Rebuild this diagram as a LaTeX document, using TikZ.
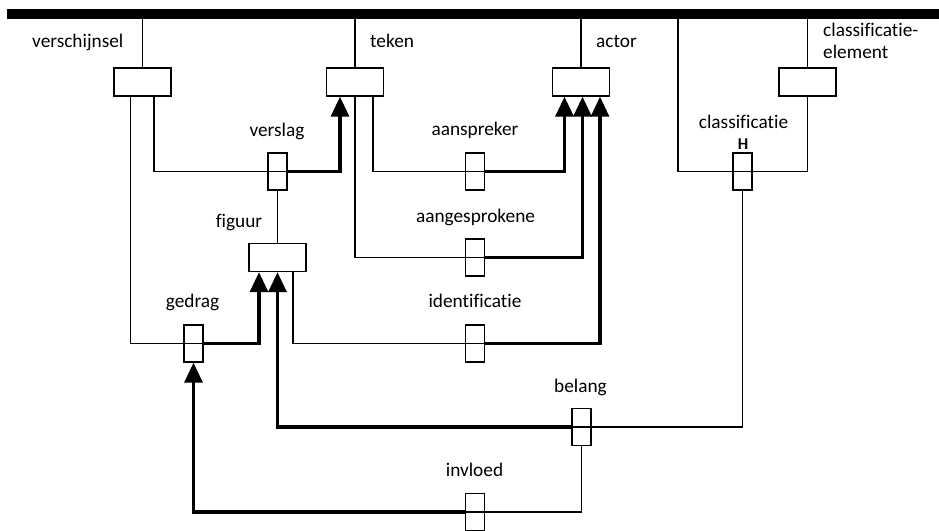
\documentclass[tikz,border=0pt]{standalone}
\usepackage{fontspec}
\setmainfont[Ligatures=NoCommon]{Carlito}
\usetikzlibrary{arrows.meta}
\tikzset{
  ent/.style={draw, line width=1.4pt, fill=white, minimum width=57pt, minimum height=28pt, inner sep=0pt},
  rel/.style={draw, line width=1.4pt, fill=white, minimum width=19pt, minimum height=37pt, inner sep=0pt,
    path picture={\draw[line width=1.1pt] (path picture bounding box.west) -- (path picture bounding box.east);}},
  thinline/.style={line width=1.1pt},
  strong/.style={line width=3.3pt},
  arr/.style={-{Triangle[width=18pt,length=20pt]}},
  lbl/.style={anchor=base, inner sep=0pt, font=\fontsize{19.3}{23}\selectfont},
  lblw/.style={anchor=base west, inner sep=0pt, font=\fontsize{19.3}{23}\selectfont}
}
\begin{document}
\begin{tikzpicture}[x=1pt,y=-1pt]
\useasboundingbox (0,0) rectangle (939,530);
% bar
\node[fill=black, minimum width=932pt, minimum height=10pt, inner sep=0pt] (bar) at (473,14) {};
\coordinate (loopstart) at (678,14);
% entity boxes
\node[ent] (verschijnsel) at (142.5,82) {};
\node[ent] (teken) at (355,82) {};
\node[ent] (actor) at (581,82) {};
\node[ent] (classel) at (807.5,82) {};
\node[ent] (figuur) at (277.5,257.5) {};
% relation boxes
\node[rel] (verslag) at (277.5,171.5) {};
\node[rel] (aanspreker) at (475,171.5) {};
\node[rel] (classificatie) at (742.5,171.5) {};
\node[rel] (aangesprokene) at (475,257.5) {};
\node[rel] (gedrag) at (193.5,343.5) {};
\node[rel] (identificatie) at (475,343.5) {};
\node[rel] (belang) at (581.5,427) {};
\node[rel] (invloed) at (475,512) {};
% verticals from bar
\draw[thinline] (bar.south -| verschijnsel.north) -- (verschijnsel.north);
\draw[thinline] (bar.south -| teken.north) -- (teken.north);
\draw[thinline] (bar.south -| actor.north) -- (actor.north);
\draw[thinline] (bar.south -| classel.north) -- (classel.north);
\draw[thinline] (bar.south -| loopstart) |- (classificatie.west);
\draw[thinline] (classificatie.east) -| (classel.south);
% connectors
\draw[thinline] ([xshift=11.5pt]verschijnsel.south) |- (verslag.west);
\draw[thinline] ([xshift=-12pt]verschijnsel.south) |- (gedrag.west);
\draw[strong, arr] (verslag.east) -| ([xshift=-15pt]teken.south);
\draw[thinline] (verslag.south) -- (figuur.north);
\draw[thinline] ([xshift=18pt]teken.south) |- (aanspreker.west);
\draw[thinline] (teken.south) |- (aangesprokene.west);
\draw[strong, arr] (aanspreker.east) -| ([xshift=-16.5pt]actor.south);
\draw[strong, arr] (aangesprokene.east) -| ([xshift=1.5pt]actor.south);
\draw[strong, arr] (identificatie.east) -| ([xshift=19pt]actor.south);
\draw[thinline] ([xshift=15.5pt]figuur.south) |- (identificatie.west);
\draw[strong, arr] (gedrag.east) -| ([xshift=-18.5pt]figuur.south);
\draw[strong, arr] (belang.west) -| (figuur.south);
\draw[thinline] (belang.east) -| (classificatie.south);
\draw[strong, arr] (invloed.west) -| (gedrag.south);
\draw[thinline] (invloed.east) -| (belang.south);
% labels
\node[lblw] (l-verschijnsel) at (32,47) {verschijnsel};
\node[lblw] (l-teken) at (370,47) {teken};
\node[lblw] (l-actor) at (596,47) {actor};
\node[lblw] (l-classel1) at (823,36) {classificatie-};
\node[lblw] (l-classel2) at (823,58) {element};
\node[lbl] (l-verslag) at (277,136) {verslag};
\node[lbl] (l-aanspreker) at (475,135) {aanspreker};
\node[lbl] (l-classificatie) at (743.5,128) {classificatie};
\node[anchor=base, inner sep=0pt, font=\fontsize{16.5}{19}\selectfont\bfseries] (l-H) at (743,149) {H};
\node[lbl] (l-figuur) at (239,227) {figuur};
\node[lbl] (l-aangesprokene) at (475.5,222) {aangesprokene};
\node[lbl] (l-gedrag) at (192.5,307) {gedrag};
\node[lbl] (l-identificatie) at (475,307) {identificatie};
\node[lbl] (l-belang) at (580.5,392) {belang};
\node[lbl] (l-invloed) at (474.5,476) {invloed};
\end{tikzpicture}
\end{document}
